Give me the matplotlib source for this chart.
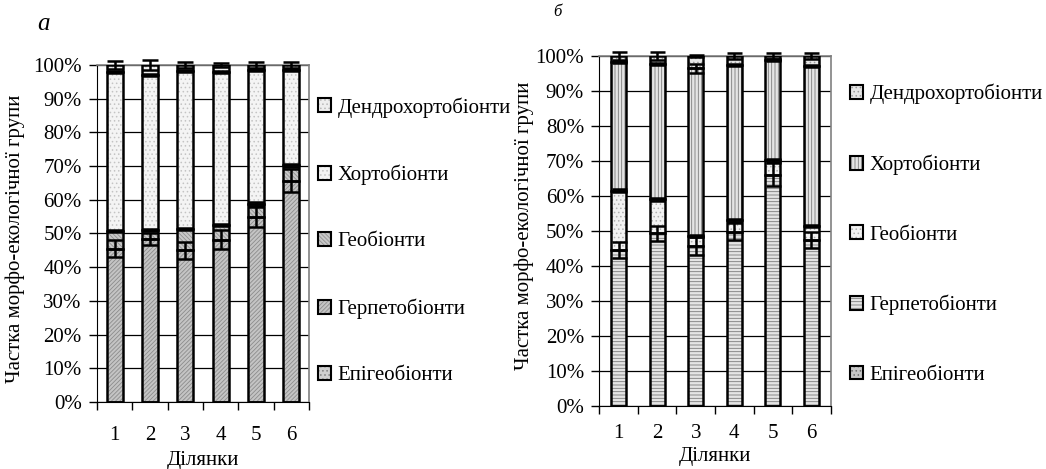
"""Частка морфо-екологічних груп по ділянках: панелі а та б (стовпчики з накопиченням)."""
import numpy as np
import matplotlib
matplotlib.use("Agg")
import matplotlib.pyplot as plt
from matplotlib.patches import Patch
from matplotlib.ticker import FixedLocator, PercentFormatter

matplotlib.rcParams["font.family"] = ["Liberation Serif", "DejaVu Serif"]
matplotlib.rcParams["hatch.linewidth"] = 0.6

FS = 15

# --- дані -----------------------------------------------------------------
sites = ["1", "2", "3", "4", "5", "6"]
groups = ["Епігеобіонти", "Герпетобіонти", "Геобіонти", "Хортобіонти", "Дендрохортобіонти"]

# панель а (% від загальної кількості)
a_epi = [0, 0, 0, 0, 0, 0]
a_herp = [45.5, 48.4, 45.0, 48.2, 55.0, 65.7]
a_geo = [5.3, 2.6, 6.2, 4.3, 3.7, 4.5]
a_chorto = [47.0, 46.0, 47.0, 45.5, 39.8, 28.3]
a_dendro = [2.2, 3.0, 1.8, 2.0, 1.5, 1.5]
a_err_herp = [2.5, 1.8, 2.5, 2.7, 3.0, 3.3]
a_err_geo = [0.3, 0.3, 0.3, 0.4, 0.5, 0.5]
a_err_chorto = [0.3, 0.3, 0.3, 0.3, 0.3, 0.3]
a_err_dendro = [1.2, 1.4, 1.0, 0.6, 1.0, 1.0]

# панель б
b_epi = [0, 0, 0, 0, 0, 0]
b_herp = [44.5, 49.3, 45.7, 49.8, 66.0, 47.4]
b_geo = [17.0, 9.7, 2.8, 3.2, 4.2, 4.0]
b_chorto = [36.8, 38.6, 48.0, 44.3, 28.6, 45.7]
b_dendro = [1.7, 2.4, 3.5, 2.7, 1.2, 2.9]
b_err_herp = [2.4, 2.2, 2.5, 2.4, 3.3, 2.4]
b_err_geo = [0.5, 0.5, 0.4, 0.4, 0.4, 0.3]
b_err_chorto = [0.3, 0.3, 1.3, 0.3, 0.3, 0.3]
b_err_dendro = [1.2, 1.2, 0.4, 1.0, 0.8, 1.0]

# стилі заливки: (фон, штрихування, колір штриха)
STYLE_A = [("#d0d0d0", "....", "#808080"),
           ("#c4c4c4", "////////", "#8c8c8c"),
           ("#c8c8c8", "\\\\\\\\\\\\\\\\", "#909090"),
           ("#f4f4f4", "....", "#c4c4c4"),
           ("#eeeeee", "....", "#b8b8b8")]
STYLE_B = [("#c8c8c8", "....", "#707070"),
           ("#e4e4e4", "-----", "#7a7a7a"),
           ("#f2f2f2", "....", "#b0b0b0"),
           ("#e4e4e4", "|||||", "#7a7a7a"),
           ("#e6e6e6", "....", "#9a9a9a")]


def _panel(ax, series, errors, styles, width, capsize, leg_xy, leg_space):
    x = np.arange(1, len(sites) + 1)
    bottom = np.zeros(len(sites))
    handles = []
    for vals, err, (fc, h, hc) in zip(series, errors, styles):
        vals = np.asarray(vals, float)
        ax.bar(x, vals, bottom=bottom, width=width, color=fc, hatch=h,
               edgecolor=hc, linewidth=0, zorder=2)
        ax.bar(x, vals, bottom=bottom, width=width, fill=False,
               edgecolor="black", linewidth=1.8, zorder=3)
        top = bottom + vals
        if err is not None:
            ax.errorbar(x, top, yerr=err, fmt="none", ecolor="black",
                        elinewidth=1.8, capsize=capsize, capthick=1.8, zorder=5,
                        clip_on=False)
        bottom = top
        handles.append((Patch(facecolor=fc, hatch=h, edgecolor=hc, linewidth=0),
                        Patch(fill=False, edgecolor="black", linewidth=1.5)))

    ax.set_xlim(0.5, len(sites) + 0.5)
    ax.set_ylim(0, 100)
    ax.yaxis.set_major_locator(FixedLocator(np.arange(0, 101, 10)))
    ax.yaxis.set_major_formatter(PercentFormatter(decimals=0))
    ax.yaxis.grid(True, color="black", lw=0.9)
    ax.set_axisbelow(True)

    # поділки між категоріями, підписи по центру
    ax.set_xticks(np.arange(0.5, len(sites) + 1, 1.0))
    ax.set_xticklabels([])
    ax.set_xticks(x, minor=True)
    ax.set_xticklabels(sites, minor=True)
    ax.tick_params(axis="x", which="major", direction="out", length=6, width=1)
    ax.tick_params(axis="x", which="minor", length=0, labelsize=FS)
    ax.tick_params(axis="y", direction="out", length=6, width=1, labelsize=FS, pad=5)

    for s in ("top", "right"):
        ax.spines[s].set_color("#808080")
        ax.spines[s].set_linewidth(1.2)

    ax.set_xlabel("Ділянки", fontsize=FS)
    ax.set_ylabel("Частка морфо-екологічної групи", fontsize=FS)
    ax.xaxis.label.set_va("center")
    ax.yaxis.label.set_va("center")

    ax.legend(handles[::-1], groups[::-1], loc="upper left", bbox_to_anchor=leg_xy,
              frameon=False, fontsize=FS, borderpad=0, borderaxespad=0,
              handlelength=0.65, handleheight=0.65, handletextpad=0.3,
              labelspacing=leg_space)


def main():
    fig = plt.figure(figsize=(10.46, 4.69), dpi=100)
    ax_a = fig.add_axes([0.0927, 0.1429, 0.2027, 0.7185])
    ax_b = fig.add_axes([0.5730, 0.1350, 0.2212, 0.7456])

    _panel(ax_a, [a_epi, a_herp, a_geo, a_chorto, a_dendro],
           [None, a_err_herp, a_err_geo, a_err_chorto, a_err_dendro],
           STYLE_A, 0.45, 5.8, (1.042, 0.905), 2.26)
    _panel(ax_b, [b_epi, b_herp, b_geo, b_chorto, b_dendro],
           [None, b_err_herp, b_err_geo, b_err_chorto, b_err_dendro],
           STYLE_B, 0.39, 5.4, (1.083, 0.92), 2.41)

    ax_a.tick_params(axis="x", which="minor", pad=17)
    ax_b.tick_params(axis="x", which="minor", pad=13)
    ax_a.xaxis.set_label_coords(0.5, -0.175)
    ax_b.xaxis.set_label_coords(0.5, -0.146)
    ax_a.yaxis.set_label_coords(-0.385, 0.484)
    ax_b.yaxis.set_label_coords(-0.325, 0.515)

    fig.text(43 / 1046, 1 - 24 / 469, "а", fontsize=18, style="italic",
             ha="center", va="center")
    fig.text(557 / 1046, 1 - 12 / 469, "б", fontsize=12, style="italic",
             ha="center", va="center")

    fig.savefig("out.png", dpi=100)
    plt.close(fig)


if __name__ == "__main__":
    main()
